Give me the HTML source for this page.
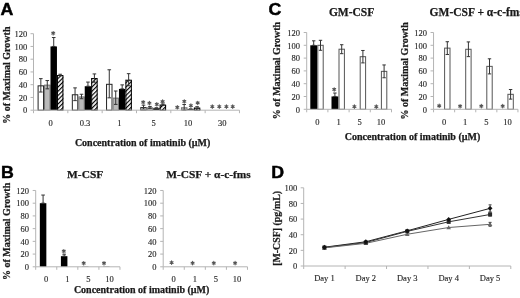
<!DOCTYPE html>
<html><head><meta charset="utf-8"><style>
html,body{margin:0;padding:0;background:#fff;width:520px;height:298px;overflow:hidden}
svg{display:block;filter:blur(0.25px)}
</style></head><body>
<svg width="520" height="298" viewBox="0 0 520 298">
<defs><pattern id="hatch" patternUnits="userSpaceOnUse" width="3" height="3" patternTransform="rotate(45)"><rect x="0" y="0" width="3" height="3" fill="#fff"/><rect x="0" y="0" width="1.15" height="3" fill="#000"/></pattern></defs>
<rect width="520" height="298" fill="#fff"/>
<text transform="translate(0.6,15) scale(1.07,1)" x="0" y="0" font-family='"Liberation Sans", sans-serif' font-size="16.6" font-weight="bold" fill="#000" stroke="#000" stroke-width="0.45">A</text>
<text transform="translate(1.0,178.1) scale(1.07,1)" x="0" y="0" font-family='"Liberation Sans", sans-serif' font-size="16.6" font-weight="bold" fill="#000" stroke="#000" stroke-width="0.45">B</text>
<text transform="translate(268.6,14.8) scale(1.07,1)" x="0" y="0" font-family='"Liberation Sans", sans-serif' font-size="16.6" font-weight="bold" fill="#000" stroke="#000" stroke-width="0.45">C</text>
<text transform="translate(271.2,178.1) scale(1.07,1)" x="0" y="0" font-family='"Liberation Sans", sans-serif' font-size="16.6" font-weight="bold" fill="#000" stroke="#000" stroke-width="0.45">D</text>
<text transform="translate(10.20,75.20) rotate(-90)" x="0" y="0" font-family='"Liberation Serif", serif' font-size="10" font-weight="bold" text-anchor="middle" fill="#1a1a1a" stroke="#1a1a1a" stroke-width="0.25">% of Maximal Growth</text>
<rect x="37.60" y="85.34" width="6.45" height="24.86" fill="#fff" stroke="none" stroke-width="1"/>
<rect x="38.10" y="85.84" width="5.45" height="24.36" fill="none" stroke="#222" stroke-width="1"/>
<line x1="40.83" y1="78.64" x2="40.83" y2="92.03" stroke="#333" stroke-width="1"/>
<line x1="39.03" y1="78.64" x2="42.62" y2="78.64" stroke="#333" stroke-width="1"/>
<line x1="39.03" y1="92.03" x2="42.62" y2="92.03" stroke="#333" stroke-width="1"/>
<rect x="44.05" y="84.70" width="6.45" height="25.50" fill="#bababa" stroke="none" stroke-width="1"/>
<rect x="44.55" y="85.20" width="5.45" height="25.00" fill="none" stroke="#777" stroke-width="1"/>
<line x1="47.28" y1="80.56" x2="47.28" y2="88.84" stroke="#333" stroke-width="1"/>
<line x1="45.48" y1="80.56" x2="49.08" y2="80.56" stroke="#333" stroke-width="1"/>
<line x1="45.48" y1="88.84" x2="49.08" y2="88.84" stroke="#333" stroke-width="1"/>
<rect x="50.50" y="46.45" width="6.45" height="63.75" fill="#000" stroke="none" stroke-width="1"/>
<line x1="53.73" y1="37.53" x2="53.73" y2="46.45" stroke="#333" stroke-width="1"/>
<line x1="51.93" y1="37.53" x2="55.52" y2="37.53" stroke="#333" stroke-width="1"/>
<line x1="51.93" y1="46.45" x2="55.52" y2="46.45" stroke="#333" stroke-width="1"/>
<rect x="56.95" y="75.01" width="6.45" height="35.19" fill="url(#hatch)" stroke="none" stroke-width="1"/>
<rect x="57.45" y="75.51" width="5.45" height="34.69" fill="none" stroke="#000" stroke-width="1"/>
<line x1="60.18" y1="74.25" x2="60.18" y2="75.78" stroke="#333" stroke-width="1"/>
<line x1="58.38" y1="74.25" x2="61.98" y2="74.25" stroke="#333" stroke-width="1"/>
<line x1="58.38" y1="75.78" x2="61.98" y2="75.78" stroke="#333" stroke-width="1"/>
<rect x="71.83" y="94.26" width="6.45" height="15.94" fill="#fff" stroke="none" stroke-width="1"/>
<rect x="72.33" y="94.76" width="5.45" height="15.44" fill="none" stroke="#222" stroke-width="1"/>
<line x1="75.05" y1="87.89" x2="75.05" y2="100.64" stroke="#333" stroke-width="1"/>
<line x1="73.25" y1="87.89" x2="76.85" y2="87.89" stroke="#333" stroke-width="1"/>
<line x1="73.25" y1="100.64" x2="76.85" y2="100.64" stroke="#333" stroke-width="1"/>
<rect x="78.28" y="96.49" width="6.45" height="13.71" fill="#bababa" stroke="none" stroke-width="1"/>
<rect x="78.78" y="96.99" width="5.45" height="13.21" fill="none" stroke="#777" stroke-width="1"/>
<line x1="81.50" y1="94.26" x2="81.50" y2="98.73" stroke="#333" stroke-width="1"/>
<line x1="79.70" y1="94.26" x2="83.30" y2="94.26" stroke="#333" stroke-width="1"/>
<line x1="79.70" y1="98.73" x2="83.30" y2="98.73" stroke="#333" stroke-width="1"/>
<rect x="84.73" y="86.23" width="6.45" height="23.97" fill="#000" stroke="none" stroke-width="1"/>
<line x1="87.95" y1="82.09" x2="87.95" y2="86.23" stroke="#333" stroke-width="1"/>
<line x1="86.15" y1="82.09" x2="89.75" y2="82.09" stroke="#333" stroke-width="1"/>
<line x1="86.15" y1="86.23" x2="89.75" y2="86.23" stroke="#333" stroke-width="1"/>
<rect x="91.18" y="78.07" width="6.45" height="32.13" fill="url(#hatch)" stroke="none" stroke-width="1"/>
<rect x="91.68" y="78.57" width="5.45" height="31.63" fill="none" stroke="#000" stroke-width="1"/>
<line x1="94.40" y1="73.93" x2="94.40" y2="82.21" stroke="#333" stroke-width="1"/>
<line x1="92.60" y1="73.93" x2="96.20" y2="73.93" stroke="#333" stroke-width="1"/>
<line x1="92.60" y1="82.21" x2="96.20" y2="82.21" stroke="#333" stroke-width="1"/>
<rect x="106.06" y="83.81" width="6.45" height="26.39" fill="#fff" stroke="none" stroke-width="1"/>
<rect x="106.56" y="84.31" width="5.45" height="25.89" fill="none" stroke="#222" stroke-width="1"/>
<line x1="109.28" y1="69.78" x2="109.28" y2="97.83" stroke="#333" stroke-width="1"/>
<line x1="107.48" y1="69.78" x2="111.08" y2="69.78" stroke="#333" stroke-width="1"/>
<line x1="107.48" y1="97.83" x2="111.08" y2="97.83" stroke="#333" stroke-width="1"/>
<rect x="112.51" y="97.70" width="6.45" height="12.50" fill="#bababa" stroke="none" stroke-width="1"/>
<rect x="113.01" y="98.20" width="5.45" height="12.00" fill="none" stroke="#777" stroke-width="1"/>
<line x1="115.73" y1="91.01" x2="115.73" y2="104.40" stroke="#333" stroke-width="1"/>
<line x1="113.93" y1="91.01" x2="117.53" y2="91.01" stroke="#333" stroke-width="1"/>
<line x1="113.93" y1="104.40" x2="117.53" y2="104.40" stroke="#333" stroke-width="1"/>
<rect x="118.96" y="88.91" width="6.45" height="21.29" fill="#000" stroke="none" stroke-width="1"/>
<line x1="122.18" y1="84.89" x2="122.18" y2="88.91" stroke="#333" stroke-width="1"/>
<line x1="120.38" y1="84.89" x2="123.98" y2="84.89" stroke="#333" stroke-width="1"/>
<line x1="120.38" y1="88.91" x2="123.98" y2="88.91" stroke="#333" stroke-width="1"/>
<rect x="125.41" y="79.73" width="6.45" height="30.47" fill="url(#hatch)" stroke="none" stroke-width="1"/>
<rect x="125.91" y="80.23" width="5.45" height="29.97" fill="none" stroke="#000" stroke-width="1"/>
<line x1="128.63" y1="73.67" x2="128.63" y2="85.78" stroke="#333" stroke-width="1"/>
<line x1="126.83" y1="73.67" x2="130.44" y2="73.67" stroke="#333" stroke-width="1"/>
<line x1="126.83" y1="85.78" x2="130.44" y2="85.78" stroke="#333" stroke-width="1"/>
<rect x="140.29" y="107.08" width="6.45" height="3.12" fill="#fff" stroke="none" stroke-width="1"/>
<rect x="140.79" y="107.58" width="5.45" height="2.62" fill="none" stroke="#222" stroke-width="1"/>
<line x1="143.51" y1="105.16" x2="143.51" y2="108.99" stroke="#333" stroke-width="1"/>
<line x1="141.71" y1="105.16" x2="145.31" y2="105.16" stroke="#333" stroke-width="1"/>
<line x1="141.71" y1="108.99" x2="145.31" y2="108.99" stroke="#333" stroke-width="1"/>
<rect x="146.74" y="107.39" width="6.45" height="2.81" fill="#bababa" stroke="none" stroke-width="1"/>
<rect x="147.24" y="107.89" width="5.45" height="2.31" fill="none" stroke="#777" stroke-width="1"/>
<line x1="149.96" y1="106.44" x2="149.96" y2="108.35" stroke="#333" stroke-width="1"/>
<line x1="148.16" y1="106.44" x2="151.76" y2="106.44" stroke="#333" stroke-width="1"/>
<line x1="148.16" y1="108.35" x2="151.76" y2="108.35" stroke="#333" stroke-width="1"/>
<rect x="153.19" y="108.29" width="6.45" height="1.91" fill="#000" stroke="none" stroke-width="1"/>
<line x1="156.41" y1="107.78" x2="156.41" y2="108.29" stroke="#333" stroke-width="1"/>
<line x1="154.61" y1="107.78" x2="158.22" y2="107.78" stroke="#333" stroke-width="1"/>
<line x1="154.61" y1="108.29" x2="158.22" y2="108.29" stroke="#333" stroke-width="1"/>
<rect x="159.64" y="104.59" width="6.45" height="5.61" fill="url(#hatch)" stroke="none" stroke-width="1"/>
<rect x="160.14" y="105.09" width="5.45" height="5.11" fill="none" stroke="#000" stroke-width="1"/>
<line x1="162.86" y1="103.95" x2="162.86" y2="105.23" stroke="#333" stroke-width="1"/>
<line x1="161.06" y1="103.95" x2="164.66" y2="103.95" stroke="#333" stroke-width="1"/>
<line x1="161.06" y1="105.23" x2="164.66" y2="105.23" stroke="#333" stroke-width="1"/>
<rect x="174.52" y="110.01" width="6.45" height="0.19" fill="#fff" stroke="none" stroke-width="1"/>
<rect x="175.02" y="110.51" width="5.45" height="-0.31" fill="none" stroke="#222" stroke-width="1"/>
<rect x="180.97" y="107.33" width="6.45" height="2.87" fill="#bababa" stroke="none" stroke-width="1"/>
<rect x="181.47" y="107.83" width="5.45" height="2.37" fill="none" stroke="#777" stroke-width="1"/>
<line x1="184.19" y1="104.46" x2="184.19" y2="110.20" stroke="#333" stroke-width="1"/>
<line x1="182.39" y1="104.46" x2="185.99" y2="104.46" stroke="#333" stroke-width="1"/>
<line x1="182.39" y1="110.20" x2="185.99" y2="110.20" stroke="#333" stroke-width="1"/>
<rect x="187.42" y="109.24" width="6.45" height="0.96" fill="#000" stroke="none" stroke-width="1"/>
<line x1="190.64" y1="108.92" x2="190.64" y2="109.24" stroke="#333" stroke-width="1"/>
<line x1="188.84" y1="108.92" x2="192.44" y2="108.92" stroke="#333" stroke-width="1"/>
<line x1="188.84" y1="109.24" x2="192.44" y2="109.24" stroke="#333" stroke-width="1"/>
<rect x="193.87" y="107.65" width="6.45" height="2.55" fill="url(#hatch)" stroke="none" stroke-width="1"/>
<rect x="194.37" y="108.15" width="5.45" height="2.05" fill="none" stroke="#000" stroke-width="1"/>
<line x1="197.09" y1="106.69" x2="197.09" y2="108.61" stroke="#333" stroke-width="1"/>
<line x1="195.29" y1="106.69" x2="198.89" y2="106.69" stroke="#333" stroke-width="1"/>
<line x1="195.29" y1="108.61" x2="198.89" y2="108.61" stroke="#333" stroke-width="1"/>
<line x1="33.50" y1="33.70" x2="33.50" y2="110.20" stroke="#b4b4b4" stroke-width="1"/>
<line x1="30.50" y1="110.20" x2="33.50" y2="110.20" stroke="#b4b4b4" stroke-width="1"/>
<text x="27.30" y="113.45" font-family='"Liberation Serif", serif' font-size="8.5" font-weight="normal" text-anchor="end" fill="#2a2a2a" stroke="#2a2a2a" stroke-width="0.15">0</text>
<line x1="30.50" y1="97.45" x2="33.50" y2="97.45" stroke="#b4b4b4" stroke-width="1"/>
<text x="27.30" y="100.70" font-family='"Liberation Serif", serif' font-size="8.5" font-weight="normal" text-anchor="end" fill="#2a2a2a" stroke="#2a2a2a" stroke-width="0.15">20</text>
<line x1="30.50" y1="84.70" x2="33.50" y2="84.70" stroke="#b4b4b4" stroke-width="1"/>
<text x="27.30" y="87.95" font-family='"Liberation Serif", serif' font-size="8.5" font-weight="normal" text-anchor="end" fill="#2a2a2a" stroke="#2a2a2a" stroke-width="0.15">40</text>
<line x1="30.50" y1="71.95" x2="33.50" y2="71.95" stroke="#b4b4b4" stroke-width="1"/>
<text x="27.30" y="75.20" font-family='"Liberation Serif", serif' font-size="8.5" font-weight="normal" text-anchor="end" fill="#2a2a2a" stroke="#2a2a2a" stroke-width="0.15">60</text>
<line x1="30.50" y1="59.20" x2="33.50" y2="59.20" stroke="#b4b4b4" stroke-width="1"/>
<text x="27.30" y="62.45" font-family='"Liberation Serif", serif' font-size="8.5" font-weight="normal" text-anchor="end" fill="#2a2a2a" stroke="#2a2a2a" stroke-width="0.15">80</text>
<line x1="30.50" y1="46.45" x2="33.50" y2="46.45" stroke="#b4b4b4" stroke-width="1"/>
<text x="27.30" y="49.70" font-family='"Liberation Serif", serif' font-size="8.5" font-weight="normal" text-anchor="end" fill="#2a2a2a" stroke="#2a2a2a" stroke-width="0.15">100</text>
<line x1="30.50" y1="33.70" x2="33.50" y2="33.70" stroke="#b4b4b4" stroke-width="1"/>
<text x="27.30" y="36.95" font-family='"Liberation Serif", serif' font-size="8.5" font-weight="normal" text-anchor="end" fill="#2a2a2a" stroke="#2a2a2a" stroke-width="0.15">120</text>
<line x1="33.50" y1="110.20" x2="239.48" y2="110.20" stroke="#b4b4b4" stroke-width="1"/>
<line x1="33.50" y1="110.20" x2="33.50" y2="113.20" stroke="#b4b4b4" stroke-width="1"/>
<line x1="67.83" y1="110.20" x2="67.83" y2="113.20" stroke="#b4b4b4" stroke-width="1"/>
<line x1="102.16" y1="110.20" x2="102.16" y2="113.20" stroke="#b4b4b4" stroke-width="1"/>
<line x1="136.49" y1="110.20" x2="136.49" y2="113.20" stroke="#b4b4b4" stroke-width="1"/>
<line x1="170.82" y1="110.20" x2="170.82" y2="113.20" stroke="#b4b4b4" stroke-width="1"/>
<line x1="205.15" y1="110.20" x2="205.15" y2="113.20" stroke="#b4b4b4" stroke-width="1"/>
<line x1="239.48" y1="110.20" x2="239.48" y2="113.20" stroke="#b4b4b4" stroke-width="1"/>
<path d="M53.20,31.50L53.20,34.90M51.73,32.35L54.67,34.05M54.67,32.35L51.73,34.05" stroke="#555" stroke-width="1.15" stroke-linecap="round"/>
<circle cx="53.20" cy="33.20" r="0.9" fill="#555"/>
<path d="M143.20,100.50L143.20,103.90M141.73,101.35L144.67,103.05M144.67,101.35L141.73,103.05" stroke="#555" stroke-width="1.15" stroke-linecap="round"/>
<circle cx="143.20" cy="102.20" r="0.9" fill="#555"/>
<path d="M149.40,101.40L149.40,104.80M147.93,102.25L150.87,103.95M150.87,102.25L147.93,103.95" stroke="#555" stroke-width="1.15" stroke-linecap="round"/>
<circle cx="149.40" cy="103.10" r="0.9" fill="#555"/>
<path d="M156.80,102.60L156.80,106.00M155.33,103.45L158.27,105.15M158.27,103.45L155.33,105.15" stroke="#555" stroke-width="1.15" stroke-linecap="round"/>
<circle cx="156.80" cy="104.30" r="0.9" fill="#555"/>
<path d="M162.60,99.80L162.60,103.20M161.13,100.65L164.07,102.35M164.07,100.65L161.13,102.35" stroke="#555" stroke-width="1.15" stroke-linecap="round"/>
<circle cx="162.60" cy="101.50" r="0.9" fill="#555"/>
<path d="M177.30,105.60L177.30,109.00M175.83,106.45L178.77,108.15M178.77,106.45L175.83,108.15" stroke="#555" stroke-width="1.15" stroke-linecap="round"/>
<circle cx="177.30" cy="107.30" r="0.9" fill="#555"/>
<path d="M184.30,99.70L184.30,103.10M182.83,100.55L185.77,102.25M185.77,100.55L182.83,102.25" stroke="#555" stroke-width="1.15" stroke-linecap="round"/>
<circle cx="184.30" cy="101.40" r="0.9" fill="#555"/>
<path d="M190.90,103.90L190.90,107.30M189.43,104.75L192.37,106.45M192.37,104.75L189.43,106.45" stroke="#555" stroke-width="1.15" stroke-linecap="round"/>
<circle cx="190.90" cy="105.60" r="0.9" fill="#555"/>
<path d="M197.70,101.20L197.70,104.60M196.23,102.05L199.17,103.75M199.17,102.05L196.23,103.75" stroke="#555" stroke-width="1.15" stroke-linecap="round"/>
<circle cx="197.70" cy="102.90" r="0.9" fill="#555"/>
<path d="M212.30,104.90L212.30,108.30M210.83,105.75L213.77,107.45M213.77,105.75L210.83,107.45" stroke="#555" stroke-width="1.15" stroke-linecap="round"/>
<circle cx="212.30" cy="106.60" r="0.9" fill="#555"/>
<path d="M219.30,104.90L219.30,108.30M217.83,105.75L220.77,107.45M220.77,105.75L217.83,107.45" stroke="#555" stroke-width="1.15" stroke-linecap="round"/>
<circle cx="219.30" cy="106.60" r="0.9" fill="#555"/>
<path d="M226.40,104.90L226.40,108.30M224.93,105.75L227.87,107.45M227.87,105.75L224.93,107.45" stroke="#555" stroke-width="1.15" stroke-linecap="round"/>
<circle cx="226.40" cy="106.60" r="0.9" fill="#555"/>
<path d="M232.70,104.90L232.70,108.30M231.23,105.75L234.17,107.45M234.17,105.75L231.23,107.45" stroke="#555" stroke-width="1.15" stroke-linecap="round"/>
<circle cx="232.70" cy="106.60" r="0.9" fill="#555"/>
<text x="50.66" y="125.60" font-family='"Liberation Serif", serif' font-size="8.5" font-weight="normal" text-anchor="middle" fill="#2a2a2a" stroke="#2a2a2a" stroke-width="0.15">0</text>
<text x="85.00" y="125.60" font-family='"Liberation Serif", serif' font-size="8.5" font-weight="normal" text-anchor="middle" fill="#2a2a2a" stroke="#2a2a2a" stroke-width="0.15">0.3</text>
<text x="119.32" y="125.60" font-family='"Liberation Serif", serif' font-size="8.5" font-weight="normal" text-anchor="middle" fill="#2a2a2a" stroke="#2a2a2a" stroke-width="0.15">1</text>
<text x="153.66" y="125.60" font-family='"Liberation Serif", serif' font-size="8.5" font-weight="normal" text-anchor="middle" fill="#2a2a2a" stroke="#2a2a2a" stroke-width="0.15">5</text>
<text x="187.98" y="125.60" font-family='"Liberation Serif", serif' font-size="8.5" font-weight="normal" text-anchor="middle" fill="#2a2a2a" stroke="#2a2a2a" stroke-width="0.15">10</text>
<text x="222.31" y="125.60" font-family='"Liberation Serif", serif' font-size="8.5" font-weight="normal" text-anchor="middle" fill="#2a2a2a" stroke="#2a2a2a" stroke-width="0.15">30</text>
<text x="74.90" y="145.60" font-family='"Liberation Serif", serif' font-size="10" font-weight="bold" text-anchor="start" fill="#1a1a1a" stroke="#1a1a1a" stroke-width="0.25">Concentration of imatinib (µM)</text>
<text transform="translate(9.60,231.40) rotate(-90)" x="0" y="0" font-family='"Liberation Serif", serif' font-size="10" font-weight="bold" text-anchor="middle" fill="#1a1a1a" stroke="#1a1a1a" stroke-width="0.25">% of Maximal Growth</text>
<text x="85.15" y="177.60" font-family='"Liberation Serif", serif' font-size="11.4" font-weight="bold" text-anchor="middle" fill="#1a1a1a" stroke="#1a1a1a" stroke-width="0.25">M-CSF</text>
<text x="208.50" y="178.00" font-family='"Liberation Serif", serif' font-size="11.4" font-weight="bold" text-anchor="middle" fill="#1a1a1a" stroke="#1a1a1a" stroke-width="0.25">M-CSF + α-c-fms</text>
<rect x="39.84" y="203.20" width="6.50" height="63.60" fill="#000" stroke="none" stroke-width="1"/>
<line x1="43.09" y1="195.06" x2="43.09" y2="203.20" stroke="#333" stroke-width="1"/>
<line x1="41.29" y1="195.06" x2="44.88" y2="195.06" stroke="#333" stroke-width="1"/>
<line x1="41.29" y1="203.20" x2="44.88" y2="203.20" stroke="#333" stroke-width="1"/>
<rect x="60.91" y="256.18" width="6.50" height="10.62" fill="#000" stroke="none" stroke-width="1"/>
<line x1="64.16" y1="254.21" x2="64.16" y2="256.18" stroke="#333" stroke-width="1"/>
<line x1="62.36" y1="254.21" x2="65.95" y2="254.21" stroke="#333" stroke-width="1"/>
<line x1="62.36" y1="256.18" x2="65.95" y2="256.18" stroke="#333" stroke-width="1"/>
<rect x="81.97" y="266.55" width="6.50" height="0.25" fill="#000" stroke="none" stroke-width="1"/>
<rect x="103.05" y="266.55" width="6.50" height="0.25" fill="#000" stroke="none" stroke-width="1"/>
<line x1="35.70" y1="190.48" x2="35.70" y2="266.80" stroke="#b4b4b4" stroke-width="1"/>
<line x1="32.70" y1="266.80" x2="35.70" y2="266.80" stroke="#b4b4b4" stroke-width="1"/>
<text x="29.10" y="270.05" font-family='"Liberation Serif", serif' font-size="8.5" font-weight="normal" text-anchor="end" fill="#2a2a2a" stroke="#2a2a2a" stroke-width="0.15">0</text>
<line x1="32.70" y1="254.08" x2="35.70" y2="254.08" stroke="#b4b4b4" stroke-width="1"/>
<text x="29.10" y="257.33" font-family='"Liberation Serif", serif' font-size="8.5" font-weight="normal" text-anchor="end" fill="#2a2a2a" stroke="#2a2a2a" stroke-width="0.15">20</text>
<line x1="32.70" y1="241.36" x2="35.70" y2="241.36" stroke="#b4b4b4" stroke-width="1"/>
<text x="29.10" y="244.61" font-family='"Liberation Serif", serif' font-size="8.5" font-weight="normal" text-anchor="end" fill="#2a2a2a" stroke="#2a2a2a" stroke-width="0.15">40</text>
<line x1="32.70" y1="228.64" x2="35.70" y2="228.64" stroke="#b4b4b4" stroke-width="1"/>
<text x="29.10" y="231.89" font-family='"Liberation Serif", serif' font-size="8.5" font-weight="normal" text-anchor="end" fill="#2a2a2a" stroke="#2a2a2a" stroke-width="0.15">60</text>
<line x1="32.70" y1="215.92" x2="35.70" y2="215.92" stroke="#b4b4b4" stroke-width="1"/>
<text x="29.10" y="219.17" font-family='"Liberation Serif", serif' font-size="8.5" font-weight="normal" text-anchor="end" fill="#2a2a2a" stroke="#2a2a2a" stroke-width="0.15">80</text>
<line x1="32.70" y1="203.20" x2="35.70" y2="203.20" stroke="#b4b4b4" stroke-width="1"/>
<text x="29.10" y="206.45" font-family='"Liberation Serif", serif' font-size="8.5" font-weight="normal" text-anchor="end" fill="#2a2a2a" stroke="#2a2a2a" stroke-width="0.15">100</text>
<line x1="32.70" y1="190.48" x2="35.70" y2="190.48" stroke="#b4b4b4" stroke-width="1"/>
<text x="29.10" y="193.73" font-family='"Liberation Serif", serif' font-size="8.5" font-weight="normal" text-anchor="end" fill="#2a2a2a" stroke="#2a2a2a" stroke-width="0.15">120</text>
<line x1="35.70" y1="266.80" x2="119.98" y2="266.80" stroke="#b4b4b4" stroke-width="1"/>
<line x1="35.70" y1="266.80" x2="35.70" y2="269.80" stroke="#b4b4b4" stroke-width="1"/>
<line x1="56.77" y1="266.80" x2="56.77" y2="269.80" stroke="#b4b4b4" stroke-width="1"/>
<line x1="77.84" y1="266.80" x2="77.84" y2="269.80" stroke="#b4b4b4" stroke-width="1"/>
<line x1="98.91" y1="266.80" x2="98.91" y2="269.80" stroke="#b4b4b4" stroke-width="1"/>
<line x1="119.98" y1="266.80" x2="119.98" y2="269.80" stroke="#b4b4b4" stroke-width="1"/>
<path d="M63.80,249.50L63.80,252.90M62.33,250.35L65.27,252.05M65.27,250.35L62.33,252.05" stroke="#555" stroke-width="1.15" stroke-linecap="round"/>
<circle cx="63.80" cy="251.20" r="0.9" fill="#555"/>
<path d="M83.70,261.50L83.70,264.90M82.23,262.35L85.17,264.05M85.17,262.35L82.23,264.05" stroke="#555" stroke-width="1.15" stroke-linecap="round"/>
<circle cx="83.70" cy="263.20" r="0.9" fill="#555"/>
<path d="M104.00,261.50L104.00,264.90M102.53,262.35L105.47,264.05M105.47,262.35L102.53,264.05" stroke="#555" stroke-width="1.15" stroke-linecap="round"/>
<circle cx="104.00" cy="263.20" r="0.9" fill="#555"/>
<text x="46.23" y="281.70" font-family='"Liberation Serif", serif' font-size="8.5" font-weight="normal" text-anchor="middle" fill="#2a2a2a" stroke="#2a2a2a" stroke-width="0.15">0</text>
<text x="67.31" y="281.70" font-family='"Liberation Serif", serif' font-size="8.5" font-weight="normal" text-anchor="middle" fill="#2a2a2a" stroke="#2a2a2a" stroke-width="0.15">1</text>
<text x="88.38" y="281.70" font-family='"Liberation Serif", serif' font-size="8.5" font-weight="normal" text-anchor="middle" fill="#2a2a2a" stroke="#2a2a2a" stroke-width="0.15">5</text>
<text x="109.45" y="281.70" font-family='"Liberation Serif", serif' font-size="8.5" font-weight="normal" text-anchor="middle" fill="#2a2a2a" stroke="#2a2a2a" stroke-width="0.15">10</text>
<line x1="163.20" y1="190.48" x2="163.20" y2="266.80" stroke="#b4b4b4" stroke-width="1"/>
<line x1="160.20" y1="266.80" x2="163.20" y2="266.80" stroke="#b4b4b4" stroke-width="1"/>
<text x="156.60" y="270.05" font-family='"Liberation Serif", serif' font-size="8.5" font-weight="normal" text-anchor="end" fill="#2a2a2a" stroke="#2a2a2a" stroke-width="0.15">0</text>
<line x1="160.20" y1="254.08" x2="163.20" y2="254.08" stroke="#b4b4b4" stroke-width="1"/>
<text x="156.60" y="257.33" font-family='"Liberation Serif", serif' font-size="8.5" font-weight="normal" text-anchor="end" fill="#2a2a2a" stroke="#2a2a2a" stroke-width="0.15">20</text>
<line x1="160.20" y1="241.36" x2="163.20" y2="241.36" stroke="#b4b4b4" stroke-width="1"/>
<text x="156.60" y="244.61" font-family='"Liberation Serif", serif' font-size="8.5" font-weight="normal" text-anchor="end" fill="#2a2a2a" stroke="#2a2a2a" stroke-width="0.15">40</text>
<line x1="160.20" y1="228.64" x2="163.20" y2="228.64" stroke="#b4b4b4" stroke-width="1"/>
<text x="156.60" y="231.89" font-family='"Liberation Serif", serif' font-size="8.5" font-weight="normal" text-anchor="end" fill="#2a2a2a" stroke="#2a2a2a" stroke-width="0.15">60</text>
<line x1="160.20" y1="215.92" x2="163.20" y2="215.92" stroke="#b4b4b4" stroke-width="1"/>
<text x="156.60" y="219.17" font-family='"Liberation Serif", serif' font-size="8.5" font-weight="normal" text-anchor="end" fill="#2a2a2a" stroke="#2a2a2a" stroke-width="0.15">80</text>
<line x1="160.20" y1="203.20" x2="163.20" y2="203.20" stroke="#b4b4b4" stroke-width="1"/>
<text x="156.60" y="206.45" font-family='"Liberation Serif", serif' font-size="8.5" font-weight="normal" text-anchor="end" fill="#2a2a2a" stroke="#2a2a2a" stroke-width="0.15">100</text>
<line x1="160.20" y1="190.48" x2="163.20" y2="190.48" stroke="#b4b4b4" stroke-width="1"/>
<text x="156.60" y="193.73" font-family='"Liberation Serif", serif' font-size="8.5" font-weight="normal" text-anchor="end" fill="#2a2a2a" stroke="#2a2a2a" stroke-width="0.15">120</text>
<line x1="163.20" y1="266.80" x2="247.48" y2="266.80" stroke="#b4b4b4" stroke-width="1"/>
<line x1="163.20" y1="266.80" x2="163.20" y2="269.80" stroke="#b4b4b4" stroke-width="1"/>
<line x1="184.27" y1="266.80" x2="184.27" y2="269.80" stroke="#b4b4b4" stroke-width="1"/>
<line x1="205.34" y1="266.80" x2="205.34" y2="269.80" stroke="#b4b4b4" stroke-width="1"/>
<line x1="226.41" y1="266.80" x2="226.41" y2="269.80" stroke="#b4b4b4" stroke-width="1"/>
<line x1="247.48" y1="266.80" x2="247.48" y2="269.80" stroke="#b4b4b4" stroke-width="1"/>
<path d="M171.60,260.90L171.60,264.30M170.13,261.75L173.07,263.45M173.07,261.75L170.13,263.45" stroke="#555" stroke-width="1.15" stroke-linecap="round"/>
<circle cx="171.60" cy="262.60" r="0.9" fill="#555"/>
<path d="M192.60,261.40L192.60,264.80M191.13,262.25L194.07,263.95M194.07,262.25L191.13,263.95" stroke="#555" stroke-width="1.15" stroke-linecap="round"/>
<circle cx="192.60" cy="263.10" r="0.9" fill="#555"/>
<path d="M213.80,261.40L213.80,264.80M212.33,262.25L215.27,263.95M215.27,262.25L212.33,263.95" stroke="#555" stroke-width="1.15" stroke-linecap="round"/>
<circle cx="213.80" cy="263.10" r="0.9" fill="#555"/>
<path d="M235.10,261.40L235.10,264.80M233.63,262.25L236.57,263.95M236.57,262.25L233.63,263.95" stroke="#555" stroke-width="1.15" stroke-linecap="round"/>
<circle cx="235.10" cy="263.10" r="0.9" fill="#555"/>
<text x="173.73" y="281.70" font-family='"Liberation Serif", serif' font-size="8.5" font-weight="normal" text-anchor="middle" fill="#2a2a2a" stroke="#2a2a2a" stroke-width="0.15">0</text>
<text x="194.80" y="281.70" font-family='"Liberation Serif", serif' font-size="8.5" font-weight="normal" text-anchor="middle" fill="#2a2a2a" stroke="#2a2a2a" stroke-width="0.15">1</text>
<text x="215.88" y="281.70" font-family='"Liberation Serif", serif' font-size="8.5" font-weight="normal" text-anchor="middle" fill="#2a2a2a" stroke="#2a2a2a" stroke-width="0.15">5</text>
<text x="236.94" y="281.70" font-family='"Liberation Serif", serif' font-size="8.5" font-weight="normal" text-anchor="middle" fill="#2a2a2a" stroke="#2a2a2a" stroke-width="0.15">10</text>
<text x="73.90" y="293.00" font-family='"Liberation Serif", serif' font-size="10" font-weight="bold" text-anchor="start" fill="#1a1a1a" stroke="#1a1a1a" stroke-width="0.25">Concentration of imatinib (µM)</text>
<text transform="translate(279.60,70.50) rotate(-90)" x="0" y="0" font-family='"Liberation Serif", serif' font-size="10" font-weight="bold" text-anchor="middle" fill="#1a1a1a" stroke="#1a1a1a" stroke-width="0.25">% of Maximal Growth</text>
<text transform="translate(407.50,70.90) rotate(-90)" x="0" y="0" font-family='"Liberation Serif", serif' font-size="10" font-weight="bold" text-anchor="middle" fill="#1a1a1a" stroke="#1a1a1a" stroke-width="0.25">% of Maximal Growth</text>
<text x="351.60" y="16.00" font-family='"Liberation Serif", serif' font-size="11.5" font-weight="bold" text-anchor="middle" fill="#1a1a1a" stroke="#1a1a1a" stroke-width="0.25">GM-CSF</text>
<text x="429.60" y="15.80" font-family='"Liberation Serif", serif' font-size="11.5" font-weight="bold" text-anchor="start" fill="#1a1a1a" stroke="#1a1a1a" stroke-width="0.25">GM-CSF + α-c-fms</text>
<rect x="310.30" y="45.30" width="6.80" height="64.00" fill="#000" stroke="none" stroke-width="1"/>
<line x1="313.70" y1="40.82" x2="313.70" y2="45.30" stroke="#333" stroke-width="1"/>
<line x1="312.00" y1="40.82" x2="315.40" y2="40.82" stroke="#333" stroke-width="1"/>
<line x1="312.00" y1="45.30" x2="315.40" y2="45.30" stroke="#333" stroke-width="1"/>
<rect x="317.80" y="45.30" width="5.40" height="64.00" fill="#fff" stroke="#555" stroke-width="1"/>
<line x1="320.50" y1="40.31" x2="320.50" y2="50.29" stroke="#333" stroke-width="1"/>
<line x1="318.80" y1="40.31" x2="322.20" y2="40.31" stroke="#333" stroke-width="1"/>
<line x1="318.80" y1="50.29" x2="322.20" y2="50.29" stroke="#333" stroke-width="1"/>
<rect x="331.50" y="96.44" width="6.80" height="12.86" fill="#000" stroke="none" stroke-width="1"/>
<line x1="334.90" y1="93.04" x2="334.90" y2="96.44" stroke="#333" stroke-width="1"/>
<line x1="333.20" y1="93.04" x2="336.60" y2="93.04" stroke="#333" stroke-width="1"/>
<line x1="333.20" y1="96.44" x2="336.60" y2="96.44" stroke="#333" stroke-width="1"/>
<rect x="339.00" y="49.20" width="5.40" height="60.10" fill="#fff" stroke="#555" stroke-width="1"/>
<line x1="341.70" y1="44.72" x2="341.70" y2="53.68" stroke="#333" stroke-width="1"/>
<line x1="340.00" y1="44.72" x2="343.40" y2="44.72" stroke="#333" stroke-width="1"/>
<line x1="340.00" y1="53.68" x2="343.40" y2="53.68" stroke="#333" stroke-width="1"/>
<rect x="360.20" y="56.69" width="5.40" height="52.61" fill="#fff" stroke="#555" stroke-width="1"/>
<line x1="362.90" y1="50.48" x2="362.90" y2="62.90" stroke="#333" stroke-width="1"/>
<line x1="361.20" y1="50.48" x2="364.60" y2="50.48" stroke="#333" stroke-width="1"/>
<line x1="361.20" y1="62.90" x2="364.60" y2="62.90" stroke="#333" stroke-width="1"/>
<rect x="373.90" y="108.92" width="6.80" height="0.38" fill="#000" stroke="none" stroke-width="1"/>
<rect x="381.40" y="71.35" width="5.40" height="37.95" fill="#fff" stroke="#555" stroke-width="1"/>
<line x1="384.10" y1="64.95" x2="384.10" y2="77.75" stroke="#333" stroke-width="1"/>
<line x1="382.40" y1="64.95" x2="385.80" y2="64.95" stroke="#333" stroke-width="1"/>
<line x1="382.40" y1="77.75" x2="385.80" y2="77.75" stroke="#333" stroke-width="1"/>
<line x1="306.70" y1="32.50" x2="306.70" y2="109.30" stroke="#b4b4b4" stroke-width="1"/>
<line x1="303.70" y1="109.30" x2="306.70" y2="109.30" stroke="#b4b4b4" stroke-width="1"/>
<text x="300.00" y="112.55" font-family='"Liberation Serif", serif' font-size="8.5" font-weight="normal" text-anchor="end" fill="#2a2a2a" stroke="#2a2a2a" stroke-width="0.15">0</text>
<line x1="303.70" y1="96.50" x2="306.70" y2="96.50" stroke="#b4b4b4" stroke-width="1"/>
<text x="300.00" y="99.75" font-family='"Liberation Serif", serif' font-size="8.5" font-weight="normal" text-anchor="end" fill="#2a2a2a" stroke="#2a2a2a" stroke-width="0.15">20</text>
<line x1="303.70" y1="83.70" x2="306.70" y2="83.70" stroke="#b4b4b4" stroke-width="1"/>
<text x="300.00" y="86.95" font-family='"Liberation Serif", serif' font-size="8.5" font-weight="normal" text-anchor="end" fill="#2a2a2a" stroke="#2a2a2a" stroke-width="0.15">40</text>
<line x1="303.70" y1="70.90" x2="306.70" y2="70.90" stroke="#b4b4b4" stroke-width="1"/>
<text x="300.00" y="74.15" font-family='"Liberation Serif", serif' font-size="8.5" font-weight="normal" text-anchor="end" fill="#2a2a2a" stroke="#2a2a2a" stroke-width="0.15">60</text>
<line x1="303.70" y1="58.10" x2="306.70" y2="58.10" stroke="#b4b4b4" stroke-width="1"/>
<text x="300.00" y="61.35" font-family='"Liberation Serif", serif' font-size="8.5" font-weight="normal" text-anchor="end" fill="#2a2a2a" stroke="#2a2a2a" stroke-width="0.15">80</text>
<line x1="303.70" y1="45.30" x2="306.70" y2="45.30" stroke="#b4b4b4" stroke-width="1"/>
<text x="300.00" y="48.55" font-family='"Liberation Serif", serif' font-size="8.5" font-weight="normal" text-anchor="end" fill="#2a2a2a" stroke="#2a2a2a" stroke-width="0.15">100</text>
<line x1="303.70" y1="32.50" x2="306.70" y2="32.50" stroke="#b4b4b4" stroke-width="1"/>
<text x="300.00" y="35.75" font-family='"Liberation Serif", serif' font-size="8.5" font-weight="normal" text-anchor="end" fill="#2a2a2a" stroke="#2a2a2a" stroke-width="0.15">120</text>
<line x1="306.70" y1="109.30" x2="391.50" y2="109.30" stroke="#b4b4b4" stroke-width="1"/>
<line x1="306.70" y1="109.30" x2="306.70" y2="112.30" stroke="#b4b4b4" stroke-width="1"/>
<line x1="327.90" y1="109.30" x2="327.90" y2="112.30" stroke="#b4b4b4" stroke-width="1"/>
<line x1="349.10" y1="109.30" x2="349.10" y2="112.30" stroke="#b4b4b4" stroke-width="1"/>
<line x1="370.30" y1="109.30" x2="370.30" y2="112.30" stroke="#b4b4b4" stroke-width="1"/>
<line x1="391.50" y1="109.30" x2="391.50" y2="112.30" stroke="#b4b4b4" stroke-width="1"/>
<path d="M334.20,87.70L334.20,91.10M332.73,88.55L335.67,90.25M335.67,88.55L332.73,90.25" stroke="#555" stroke-width="1.15" stroke-linecap="round"/>
<circle cx="334.20" cy="89.40" r="0.9" fill="#555"/>
<path d="M354.40,104.90L354.40,108.30M352.93,105.75L355.87,107.45M355.87,105.75L352.93,107.45" stroke="#555" stroke-width="1.15" stroke-linecap="round"/>
<circle cx="354.40" cy="106.60" r="0.9" fill="#555"/>
<path d="M376.30,104.90L376.30,108.30M374.83,105.75L377.77,107.45M377.77,105.75L374.83,107.45" stroke="#555" stroke-width="1.15" stroke-linecap="round"/>
<circle cx="376.30" cy="106.60" r="0.9" fill="#555"/>
<text x="317.30" y="124.50" font-family='"Liberation Serif", serif' font-size="8.5" font-weight="normal" text-anchor="middle" fill="#2a2a2a" stroke="#2a2a2a" stroke-width="0.15">0</text>
<text x="338.50" y="124.50" font-family='"Liberation Serif", serif' font-size="8.5" font-weight="normal" text-anchor="middle" fill="#2a2a2a" stroke="#2a2a2a" stroke-width="0.15">1</text>
<text x="359.70" y="124.50" font-family='"Liberation Serif", serif' font-size="8.5" font-weight="normal" text-anchor="middle" fill="#2a2a2a" stroke="#2a2a2a" stroke-width="0.15">5</text>
<text x="380.90" y="124.50" font-family='"Liberation Serif", serif' font-size="8.5" font-weight="normal" text-anchor="middle" fill="#2a2a2a" stroke="#2a2a2a" stroke-width="0.15">10</text>
<rect x="444.60" y="48.12" width="5.40" height="61.18" fill="#fff" stroke="#555" stroke-width="1"/>
<line x1="447.30" y1="41.72" x2="447.30" y2="54.52" stroke="#333" stroke-width="1"/>
<line x1="445.60" y1="41.72" x2="449.00" y2="41.72" stroke="#333" stroke-width="1"/>
<line x1="445.60" y1="54.52" x2="449.00" y2="54.52" stroke="#333" stroke-width="1"/>
<rect x="465.70" y="49.27" width="5.40" height="60.03" fill="#fff" stroke="#555" stroke-width="1"/>
<line x1="468.40" y1="41.91" x2="468.40" y2="56.63" stroke="#333" stroke-width="1"/>
<line x1="466.70" y1="41.91" x2="470.10" y2="41.91" stroke="#333" stroke-width="1"/>
<line x1="466.70" y1="56.63" x2="470.10" y2="56.63" stroke="#333" stroke-width="1"/>
<rect x="486.80" y="66.36" width="5.40" height="42.94" fill="#fff" stroke="#555" stroke-width="1"/>
<line x1="489.50" y1="58.80" x2="489.50" y2="73.91" stroke="#333" stroke-width="1"/>
<line x1="487.80" y1="58.80" x2="491.20" y2="58.80" stroke="#333" stroke-width="1"/>
<line x1="487.80" y1="73.91" x2="491.20" y2="73.91" stroke="#333" stroke-width="1"/>
<rect x="507.90" y="94.32" width="5.40" height="14.98" fill="#fff" stroke="#555" stroke-width="1"/>
<line x1="510.60" y1="89.52" x2="510.60" y2="99.12" stroke="#333" stroke-width="1"/>
<line x1="508.90" y1="89.52" x2="512.30" y2="89.52" stroke="#333" stroke-width="1"/>
<line x1="508.90" y1="99.12" x2="512.30" y2="99.12" stroke="#333" stroke-width="1"/>
<line x1="433.55" y1="32.50" x2="433.55" y2="109.30" stroke="#b4b4b4" stroke-width="1"/>
<line x1="430.55" y1="109.30" x2="433.55" y2="109.30" stroke="#b4b4b4" stroke-width="1"/>
<text x="427.00" y="112.55" font-family='"Liberation Serif", serif' font-size="8.5" font-weight="normal" text-anchor="end" fill="#2a2a2a" stroke="#2a2a2a" stroke-width="0.15">0</text>
<line x1="430.55" y1="96.50" x2="433.55" y2="96.50" stroke="#b4b4b4" stroke-width="1"/>
<text x="427.00" y="99.75" font-family='"Liberation Serif", serif' font-size="8.5" font-weight="normal" text-anchor="end" fill="#2a2a2a" stroke="#2a2a2a" stroke-width="0.15">20</text>
<line x1="430.55" y1="83.70" x2="433.55" y2="83.70" stroke="#b4b4b4" stroke-width="1"/>
<text x="427.00" y="86.95" font-family='"Liberation Serif", serif' font-size="8.5" font-weight="normal" text-anchor="end" fill="#2a2a2a" stroke="#2a2a2a" stroke-width="0.15">40</text>
<line x1="430.55" y1="70.90" x2="433.55" y2="70.90" stroke="#b4b4b4" stroke-width="1"/>
<text x="427.00" y="74.15" font-family='"Liberation Serif", serif' font-size="8.5" font-weight="normal" text-anchor="end" fill="#2a2a2a" stroke="#2a2a2a" stroke-width="0.15">60</text>
<line x1="430.55" y1="58.10" x2="433.55" y2="58.10" stroke="#b4b4b4" stroke-width="1"/>
<text x="427.00" y="61.35" font-family='"Liberation Serif", serif' font-size="8.5" font-weight="normal" text-anchor="end" fill="#2a2a2a" stroke="#2a2a2a" stroke-width="0.15">80</text>
<line x1="430.55" y1="45.30" x2="433.55" y2="45.30" stroke="#b4b4b4" stroke-width="1"/>
<text x="427.00" y="48.55" font-family='"Liberation Serif", serif' font-size="8.5" font-weight="normal" text-anchor="end" fill="#2a2a2a" stroke="#2a2a2a" stroke-width="0.15">100</text>
<line x1="430.55" y1="32.50" x2="433.55" y2="32.50" stroke="#b4b4b4" stroke-width="1"/>
<text x="427.00" y="35.75" font-family='"Liberation Serif", serif' font-size="8.5" font-weight="normal" text-anchor="end" fill="#2a2a2a" stroke="#2a2a2a" stroke-width="0.15">120</text>
<line x1="433.55" y1="109.30" x2="517.95" y2="109.30" stroke="#b4b4b4" stroke-width="1"/>
<line x1="433.55" y1="109.30" x2="433.55" y2="112.30" stroke="#b4b4b4" stroke-width="1"/>
<line x1="454.65" y1="109.30" x2="454.65" y2="112.30" stroke="#b4b4b4" stroke-width="1"/>
<line x1="475.75" y1="109.30" x2="475.75" y2="112.30" stroke="#b4b4b4" stroke-width="1"/>
<line x1="496.85" y1="109.30" x2="496.85" y2="112.30" stroke="#b4b4b4" stroke-width="1"/>
<line x1="517.95" y1="109.30" x2="517.95" y2="112.30" stroke="#b4b4b4" stroke-width="1"/>
<path d="M439.20,104.10L439.20,107.50M437.73,104.95L440.67,106.65M440.67,104.95L437.73,106.65" stroke="#555" stroke-width="1.15" stroke-linecap="round"/>
<circle cx="439.20" cy="105.80" r="0.9" fill="#555"/>
<path d="M460.10,104.50L460.10,107.90M458.63,105.35L461.57,107.05M461.57,105.35L458.63,107.05" stroke="#555" stroke-width="1.15" stroke-linecap="round"/>
<circle cx="460.10" cy="106.20" r="0.9" fill="#555"/>
<path d="M481.30,104.40L481.30,107.80M479.83,105.25L482.77,106.95M482.77,105.25L479.83,106.95" stroke="#555" stroke-width="1.15" stroke-linecap="round"/>
<circle cx="481.30" cy="106.10" r="0.9" fill="#555"/>
<path d="M502.70,104.40L502.70,107.80M501.23,105.25L504.17,106.95M504.17,105.25L501.23,106.95" stroke="#555" stroke-width="1.15" stroke-linecap="round"/>
<circle cx="502.70" cy="106.10" r="0.9" fill="#555"/>
<text x="444.10" y="124.50" font-family='"Liberation Serif", serif' font-size="8.5" font-weight="normal" text-anchor="middle" fill="#2a2a2a" stroke="#2a2a2a" stroke-width="0.15">0</text>
<text x="465.20" y="124.50" font-family='"Liberation Serif", serif' font-size="8.5" font-weight="normal" text-anchor="middle" fill="#2a2a2a" stroke="#2a2a2a" stroke-width="0.15">1</text>
<text x="486.30" y="124.50" font-family='"Liberation Serif", serif' font-size="8.5" font-weight="normal" text-anchor="middle" fill="#2a2a2a" stroke="#2a2a2a" stroke-width="0.15">5</text>
<text x="507.40" y="124.50" font-family='"Liberation Serif", serif' font-size="8.5" font-weight="normal" text-anchor="middle" fill="#2a2a2a" stroke="#2a2a2a" stroke-width="0.15">10</text>
<text x="344.80" y="139.80" font-family='"Liberation Serif", serif' font-size="10" font-weight="bold" text-anchor="start" fill="#1a1a1a" stroke="#1a1a1a" stroke-width="0.25">Concentration of imatinib (µM)</text>
<text transform="translate(279.80,228.40) rotate(-90)" x="0" y="0" font-family='"Liberation Serif", serif' font-size="9.9" font-weight="bold" text-anchor="middle" fill="#1a1a1a" stroke="#1a1a1a" stroke-width="0.25">[M-CSF] (pg/mL)</text>
<line x1="303.70" y1="187.80" x2="303.70" y2="266.00" stroke="#b4b4b4" stroke-width="1"/>
<line x1="300.70" y1="266.00" x2="303.70" y2="266.00" stroke="#b4b4b4" stroke-width="1"/>
<text x="297.30" y="269.25" font-family='"Liberation Serif", serif' font-size="8.5" font-weight="normal" text-anchor="end" fill="#2a2a2a" stroke="#2a2a2a" stroke-width="0.15">0</text>
<line x1="300.70" y1="250.36" x2="303.70" y2="250.36" stroke="#b4b4b4" stroke-width="1"/>
<text x="297.30" y="253.61" font-family='"Liberation Serif", serif' font-size="8.5" font-weight="normal" text-anchor="end" fill="#2a2a2a" stroke="#2a2a2a" stroke-width="0.15">20</text>
<line x1="300.70" y1="234.72" x2="303.70" y2="234.72" stroke="#b4b4b4" stroke-width="1"/>
<text x="297.30" y="237.97" font-family='"Liberation Serif", serif' font-size="8.5" font-weight="normal" text-anchor="end" fill="#2a2a2a" stroke="#2a2a2a" stroke-width="0.15">40</text>
<line x1="300.70" y1="219.08" x2="303.70" y2="219.08" stroke="#b4b4b4" stroke-width="1"/>
<text x="297.30" y="222.33" font-family='"Liberation Serif", serif' font-size="8.5" font-weight="normal" text-anchor="end" fill="#2a2a2a" stroke="#2a2a2a" stroke-width="0.15">60</text>
<line x1="300.70" y1="203.44" x2="303.70" y2="203.44" stroke="#b4b4b4" stroke-width="1"/>
<text x="297.30" y="206.69" font-family='"Liberation Serif", serif' font-size="8.5" font-weight="normal" text-anchor="end" fill="#2a2a2a" stroke="#2a2a2a" stroke-width="0.15">80</text>
<line x1="300.70" y1="187.80" x2="303.70" y2="187.80" stroke="#b4b4b4" stroke-width="1"/>
<text x="297.30" y="191.05" font-family='"Liberation Serif", serif' font-size="8.5" font-weight="normal" text-anchor="end" fill="#2a2a2a" stroke="#2a2a2a" stroke-width="0.15">100</text>
<line x1="303.70" y1="266.00" x2="510.80" y2="266.00" stroke="#b4b4b4" stroke-width="1"/>
<line x1="303.70" y1="266.00" x2="303.70" y2="269.00" stroke="#b4b4b4" stroke-width="1"/>
<line x1="345.12" y1="266.00" x2="345.12" y2="269.00" stroke="#b4b4b4" stroke-width="1"/>
<line x1="386.54" y1="266.00" x2="386.54" y2="269.00" stroke="#b4b4b4" stroke-width="1"/>
<line x1="427.96" y1="266.00" x2="427.96" y2="269.00" stroke="#b4b4b4" stroke-width="1"/>
<line x1="469.38" y1="266.00" x2="469.38" y2="269.00" stroke="#b4b4b4" stroke-width="1"/>
<line x1="510.80" y1="266.00" x2="510.80" y2="269.00" stroke="#b4b4b4" stroke-width="1"/>
<text x="324.41" y="280.80" font-family='"Liberation Serif", serif' font-size="8.5" font-weight="normal" text-anchor="middle" fill="#2a2a2a" stroke="#2a2a2a" stroke-width="0.15">Day 1</text>
<text x="365.83" y="280.80" font-family='"Liberation Serif", serif' font-size="8.5" font-weight="normal" text-anchor="middle" fill="#2a2a2a" stroke="#2a2a2a" stroke-width="0.15">Day 2</text>
<text x="407.25" y="280.80" font-family='"Liberation Serif", serif' font-size="8.5" font-weight="normal" text-anchor="middle" fill="#2a2a2a" stroke="#2a2a2a" stroke-width="0.15">Day 3</text>
<text x="448.67" y="280.80" font-family='"Liberation Serif", serif' font-size="8.5" font-weight="normal" text-anchor="middle" fill="#2a2a2a" stroke="#2a2a2a" stroke-width="0.15">Day 4</text>
<text x="490.09" y="280.80" font-family='"Liberation Serif", serif' font-size="8.5" font-weight="normal" text-anchor="middle" fill="#2a2a2a" stroke="#2a2a2a" stroke-width="0.15">Day 5</text>
<polyline points="324.41,247.23 365.83,241.76 407.25,230.81 448.67,219.39 490.09,208.37" fill="none" stroke="#222" stroke-width="1"/>
<polyline points="324.41,247.54 365.83,242.54 407.25,231.36 448.67,221.82 490.09,214.47" fill="none" stroke="#333" stroke-width="1"/>
<polyline points="324.41,247.86 365.83,243.32 407.25,234.25 448.67,227.53 490.09,224.32" fill="none" stroke="#666" stroke-width="1"/>
<path d="M324.41,245.66 L326.71,249.66 L322.11,249.66 Z" fill="#666"/>
<path d="M365.83,241.12 L368.13,245.12 L363.53,245.12 Z" fill="#666"/>
<path d="M407.25,232.05 L409.55,236.05 L404.95,236.05 Z" fill="#666"/>
<path d="M448.67,225.33 L450.97,229.33 L446.37,229.33 Z" fill="#666"/>
<line x1="490.09" y1="222.36" x2="490.09" y2="226.27" stroke="#444" stroke-width="1"/>
<line x1="488.59" y1="222.36" x2="491.59" y2="222.36" stroke="#444" stroke-width="1"/>
<line x1="488.59" y1="226.27" x2="491.59" y2="226.27" stroke="#444" stroke-width="1"/>
<path d="M490.09,222.12 L492.39,226.12 L487.79,226.12 Z" fill="#666"/>
<rect x="322.41" y="245.54" width="4.00" height="4.00" fill="#2a2a2a" stroke="none" stroke-width="1"/>
<rect x="363.83" y="240.54" width="4.00" height="4.00" fill="#2a2a2a" stroke="none" stroke-width="1"/>
<rect x="405.25" y="229.36" width="4.00" height="4.00" fill="#2a2a2a" stroke="none" stroke-width="1"/>
<line x1="448.67" y1="220.64" x2="448.67" y2="222.99" stroke="#444" stroke-width="1"/>
<line x1="447.17" y1="220.64" x2="450.17" y2="220.64" stroke="#444" stroke-width="1"/>
<line x1="447.17" y1="222.99" x2="450.17" y2="222.99" stroke="#444" stroke-width="1"/>
<rect x="446.67" y="219.82" width="4.00" height="4.00" fill="#2a2a2a" stroke="none" stroke-width="1"/>
<line x1="490.09" y1="212.90" x2="490.09" y2="216.03" stroke="#444" stroke-width="1"/>
<line x1="488.59" y1="212.90" x2="491.59" y2="212.90" stroke="#444" stroke-width="1"/>
<line x1="488.59" y1="216.03" x2="491.59" y2="216.03" stroke="#444" stroke-width="1"/>
<rect x="488.09" y="212.47" width="4.00" height="4.00" fill="#2a2a2a" stroke="none" stroke-width="1"/>
<path d="M324.41,244.83 L326.81,247.23 L324.41,249.63 L322.01,247.23 Z" fill="#111"/>
<path d="M365.83,239.36 L368.23,241.76 L365.83,244.16 L363.43,241.76 Z" fill="#111"/>
<path d="M407.25,228.41 L409.65,230.81 L407.25,233.21 L404.85,230.81 Z" fill="#111"/>
<path d="M448.67,216.99 L451.07,219.39 L448.67,221.79 L446.27,219.39 Z" fill="#111"/>
<line x1="490.09" y1="204.85" x2="490.09" y2="211.89" stroke="#444" stroke-width="1"/>
<line x1="488.59" y1="204.85" x2="491.59" y2="204.85" stroke="#444" stroke-width="1"/>
<line x1="488.59" y1="211.89" x2="491.59" y2="211.89" stroke="#444" stroke-width="1"/>
<path d="M490.09,205.97 L492.49,208.37 L490.09,210.77 L487.69,208.37 Z" fill="#111"/>
</svg>
</body></html>
